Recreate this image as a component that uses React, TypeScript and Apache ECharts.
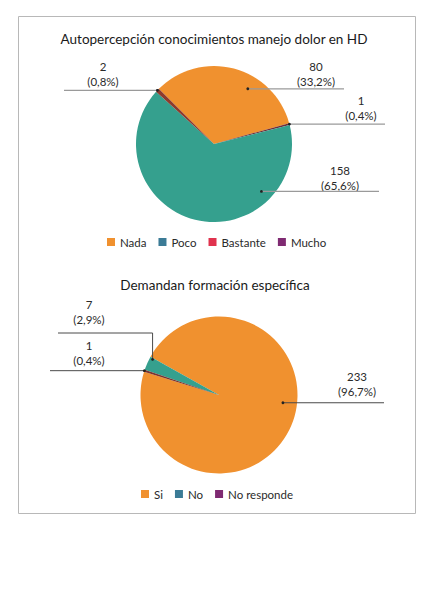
import React, { useEffect, useRef } from "react";
import * as echarts from "echarts";

// ---- Data ----
const knowledgeTitle = "Autopercepción conocimientos manejo dolor en HD";
const knowledgeCategories = ["Nada", "Poco", "Bastante", "Mucho"];
const knowledgeValues = [80, 158, 2, 1];
// order in which the slices are drawn (clockwise)
const knowledgeDrawOrder = ["Nada", "Mucho", "Poco", "Bastante"];

const trainingTitle = "Demandan formación específica";
const trainingCategories = ["Si", "No", "No responde"];
const trainingValues = [233, 7, 1];
const trainingDrawOrder = ["Si", "No", "No responde"];

// ---- Styles ----
const FONT = "Lato, 'Open Sans', sans-serif";
const sliceColors: Record<string, string> = {
  Nada: "#f0912f",
  Poco: "#35a08e",
  Bastante: "#8e3a2c",
  Mucho: "#6f2f3a",
  Si: "#f0912f",
  No: "#35a08e",
  "No responde": "#7a3430",
};
const legendColors: Record<string, string> = {
  Nada: "#f0912f",
  Poco: "#3b7b96",
  Bastante: "#e0334e",
  Mucho: "#7f2a72",
  Si: "#f0912f",
  No: "#3b7b96",
  "No responde": "#7f2a72",
};

// ---- Layout ----
const PIE1 = { cx: 214, cy: 144, r: 78, start: 135, clockwise: true };
const PIE2 = { cx: 219, cy: 395, r: 78.5, start: 162.7, clockwise: false };

type Spec = { t: number; k: number; endX: number; textX: number; textY: number; elbowY?: number };
const labelSpec1: Record<string, Spec> = {
  Nada: { t: 0.64, k: 0.83, endX: 344, textX: 316, textY: 74 },
  Mucho: { t: 0.5, k: 1, endX: 385, textX: 361, textY: 107.5 },
  Poco: { t: 0.25, k: 0.86, endX: 379, textX: 340, textY: 177.5 },
  Bastante: { t: 0.5, k: 1, endX: 64, textX: 103, textY: 73.5 },
};
const labelSpec2: Record<string, Spec> = {
  Si: { t: 0.547, k: 0.82, endX: 384, textX: 357, textY: 383.5 },
  No: { t: 0.1, k: 0.96, endX: 58, textX: 89, textY: 312, elbowY: 333 },
  "No responde": { t: 0.5, k: 1, endX: 50, textX: 89, textY: 352.5 },
};

function orderedValues(order: string[], cats: string[], vals: number[]) {
  return order.map((n) => vals[cats.indexOf(n)]);
}

function anchors(values: number[], pie: typeof PIE1, order: string[], spec: Record<string, Spec>) {
  const total = values.reduce((a, b) => a + b, 0);
  const dir = pie.clockwise ? -1 : 1;
  let cum = 0;
  return values.map((v, i) => {
    const a0 = pie.start + (dir * cum * 360) / total;
    const a1 = a0 + (dir * v * 360) / total;
    cum += v;
    const s = spec[order[i]];
    const a = ((a0 + s.t * (a1 - a0)) * Math.PI) / 180;
    const r = s.k * pie.r;
    return [pie.cx + r * Math.cos(a), pie.cy - r * Math.sin(a)];
  });
}

function fmtLabel(p: any) {
  return `${p.value}\n(${Number(p.percent).toFixed(1).replace(".", ",")}%)`;
}

function makeSeries(
  order: string[],
  cats: string[],
  vals: number[],
  pie: typeof PIE1,
  spec: Record<string, Spec>,
  lineColor: string,
  lineWidth: number
) {
  const ov = orderedValues(order, cats, vals);
  const anc = anchors(ov, pie, order, spec);
  const lines = order.map((n, i) => {
    const s = spec[n];
    const a = anc[i];
    const pts =
      s.elbowY != null ? [a, [a[0], s.elbowY], [s.endX, s.elbowY]] : [a, [s.endX, a[1]]];
    return {
      type: "polyline",
      z: 100,
      shape: { points: pts },
      style: { stroke: lineColor, lineWidth, fill: "none" },
    };
  });
  const dots = anc.map((a) => ({
    type: "circle",
    z: 101,
    shape: { cx: a[0], cy: a[1], r: 1.4 },
    style: { fill: "#222" },
  }));
  return {
    graphics: [...lines, ...dots],
    series: {
      type: "pie",
      center: [pie.cx, pie.cy],
      radius: pie.r,
      startAngle: pie.start,
      clockwise: pie.clockwise,
      silent: true,
      percentPrecision: 1,
      avoidLabelOverlap: false,
      data: order.map((n, i) => ({ name: n, value: ov[i], itemStyle: { color: sliceColors[n] } })),
      label: {
        show: true,
        position: "outside",
        formatter: fmtLabel,
        fontFamily: FONT,
        fontWeight: 400,
        fontSize: 11.5,
        lineHeight: 15,
        color: "#2a2a2a",
        align: "center",
      },
      labelLine: { show: false },
      labelLayout: (p: any) => {
        const s = spec[order[p.dataIndex]];
        return { x: s.textX, y: s.textY, align: "center", verticalAlign: "middle" };
      },
    },
  };
}

export default function App() {
  const ref = useRef<HTMLDivElement>(null);
  useEffect(() => {
    if (!ref.current) return;
    const chart = echarts.init(ref.current, undefined, { renderer: "svg" });
    const s1 = makeSeries(knowledgeDrawOrder, knowledgeCategories, knowledgeValues, PIE1, labelSpec1, "#9a9a9a", 1.2);
    const s2 = makeSeries(trainingDrawOrder, trainingCategories, trainingValues, PIE2, labelSpec2, "#4a4a4a", 1);
    const titleStyle = {
      fontFamily: FONT,
      fontWeight: 400,
      fontSize: 13.5,
      fill: "#1a1a1a",
      textAlign: "center",
      textVerticalAlign: "middle",
    };
    const legendBase = {
      icon: "rect",
      itemWidth: 8,
      itemHeight: 8,
      itemGap: 12,
      padding: 0,
      selectedMode: false,
      textStyle: { fontFamily: FONT, fontWeight: 400, fontSize: 11.5, color: "#2a2a2a" },
    };
    chart.setOption({
      animation: false,
      backgroundColor: "#ffffff",
      graphic: [
        {
          type: "rect",
          shape: { x: 18.5, y: 16.5, width: 397, height: 497 },
          style: { fill: "none", stroke: "#b8b8b8", lineWidth: 1 },
        },
        { type: "text", x: 214, y: 39, style: { ...titleStyle, text: knowledgeTitle } },
        { type: "text", x: 215, y: 285, style: { ...titleStyle, text: trainingTitle } },
        ...s1.graphics,
        ...s2.graphics,
      ],
      legend: [
        {
          ...legendBase,
          left: 107,
          top: 236,
          data: knowledgeCategories.map((n) => ({ name: n, itemStyle: { color: legendColors[n] } })),
        },
        {
          ...legendBase,
          left: 141,
          top: 488,
          data: trainingCategories.map((n) => ({ name: n, itemStyle: { color: legendColors[n] } })),
        },
      ],
      series: [s1.series, s2.series],
    });
    return () => chart.dispose();
  }, []);
  return (
    <div
      ref={ref}
      style={{ position: "absolute", left: 0, top: 0, width: 440, height: 592, background: "#fff" }}
    />
  );
}
